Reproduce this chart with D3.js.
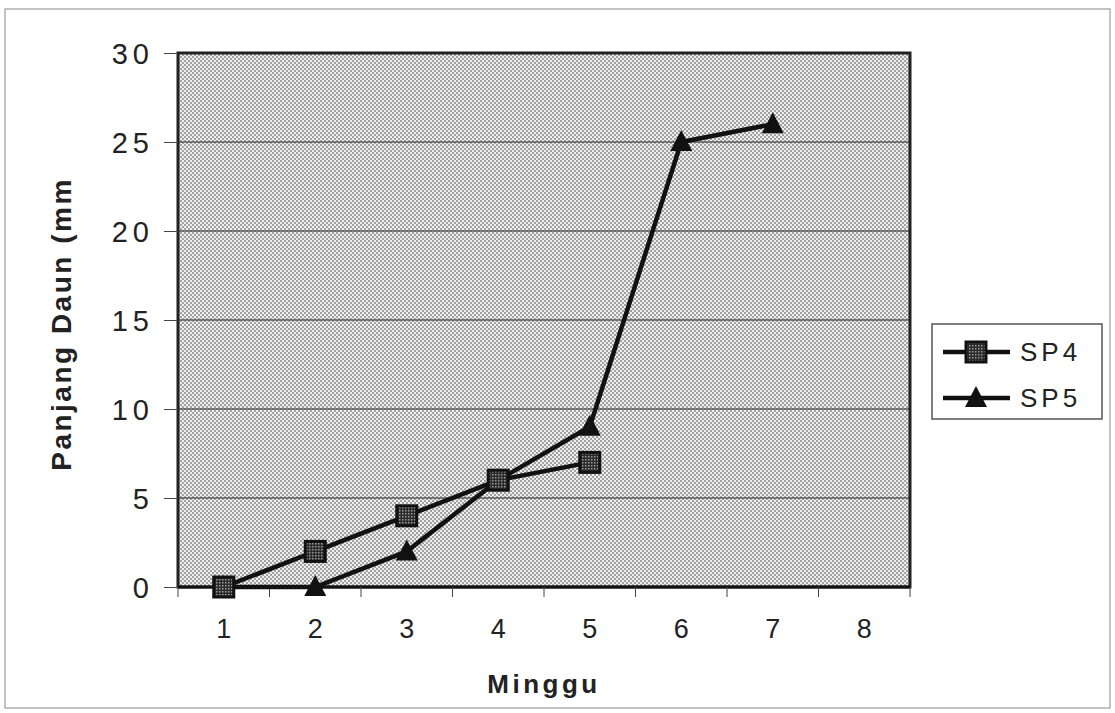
<!DOCTYPE html>
<html>
<head>
<meta charset="utf-8">
<script src="https://cdn.jsdelivr.net/npm/d3@7"></script>
<style>
  body { margin: 0; background: #fff; }
  text { font-family: "Liberation Sans", Arial, sans-serif; fill: #222; }
</style>
</head>
<body>
<div id="chart"></div>
<script>
var weeks = ["1", "2", "3", "4", "5", "6", "7", "8"];
var sp4 = [0, 2, 4, 6, 7];
var sp5 = [0, 0, 2, 6, 9, 25, 26];
var yTicks = [0, 5, 10, 15, 20, 25, 30];

var width = 1115, height = 713;
var plot = {left: 178, top: 53, right: 910, bottom: 587};

var svg = d3.select('#chart')
  .append('svg')
  .attr('width', width)
  .attr('height', height);

// dotted halftone fill of the plot area
var defs = svg.append('defs');
var pat = defs.append('pattern')
  .attr('id', 'dots')
  .attr('width', 4).attr('height', 4)
  .attr('patternUnits', 'userSpaceOnUse');
pat.append('rect').attr('width', 4).attr('height', 4).attr('fill', '#eeeeee');
pat.append('rect').attr('x', 0).attr('y', 0).attr('width', 2).attr('height', 2).attr('fill', '#a2a2a2');
pat.append('rect').attr('x', 2).attr('y', 2).attr('width', 2).attr('height', 2).attr('fill', '#a2a2a2');

var markPat = defs.append('pattern')
  .attr('id', 'markdots')
  .attr('width', 3).attr('height', 3)
  .attr('patternUnits', 'userSpaceOnUse');
markPat.append('rect').attr('width', 3).attr('height', 3).attr('fill', '#2a2a2a');
markPat.append('rect').attr('width', 1.5).attr('height', 1.5).attr('fill', '#999');

// outer frame
svg.append('rect')
  .attr('x', 5).attr('y', 9).attr('width', 1105).attr('height', 699)
  .attr('fill', 'none').attr('stroke', '#888').attr('stroke-width', 1);

var x = d3.scaleBand().domain(weeks).range([plot.left, plot.right]);
var y = d3.scaleLinear().domain([0, 30]).range([plot.bottom, plot.top]);

svg.append('rect')
  .attr('x', plot.left).attr('y', plot.top)
  .attr('width', plot.right - plot.left).attr('height', plot.bottom - plot.top)
  .attr('fill', 'url(#dots)');

// gridlines
svg.append('g').selectAll('line')
  .data(yTicks.filter(function(d){ return d > 0 && d < 30; }))
  .enter().append('line')
  .attr('x1', plot.left).attr('x2', plot.right)
  .attr('y1', function(d){ return y(d); }).attr('y2', function(d){ return y(d); })
  .attr('stroke', '#5a5a5a').attr('stroke-width', 1.3);

// plot border
svg.append('rect')
  .attr('x', plot.left).attr('y', plot.top)
  .attr('width', plot.right - plot.left).attr('height', plot.bottom - plot.top)
  .attr('fill', 'none').attr('stroke', '#222').attr('stroke-width', 3);

// y axis
var yAxis = svg.append('g')
  .attr('transform', 'translate(' + plot.left + ',0)')
  .call(d3.axisLeft(y).tickValues(yTicks).tickSize(14).tickPadding(10));
yAxis.select('.domain').remove();
yAxis.selectAll('line').attr('stroke', '#444');
yAxis.selectAll('text')
  .style('font-size', '29px')
  .style('letter-spacing', '5px')
  .attr('dy', '0.36em')
  .attr('fill', '#2a2a2a');

// x axis: ticks between categories
var xAxis = svg.append('g')
  .attr('transform', 'translate(0,' + plot.bottom + ')');
xAxis.append('line')
  .attr('x1', plot.left).attr('x2', plot.right)
  .attr('stroke', '#111').attr('stroke-width', 3);
xAxis.selectAll('.tick')
  .data(weeks.concat(['end']))
  .enter().append('line')
  .attr('x1', function(d){ return d === 'end' ? plot.right : x(d); })
  .attr('x2', function(d){ return d === 'end' ? plot.right : x(d); })
  .attr('y1', 0).attr('y2', 10)
  .attr('stroke', '#444');
xAxis.selectAll('text')
  .data(weeks)
  .enter().append('text')
  .attr('x', function(d){ return x(d) + x.bandwidth() / 2; })
  .attr('y', 51)
  .attr('text-anchor', 'middle')
  .attr('fill', '#2a2a2a')
  .style('font-size', '27px')
  .text(function(d){ return d; });

// axis titles
svg.append('text')
  .attr('transform', 'translate(71,' + 324 + ') rotate(-90)')
  .attr('text-anchor', 'middle')
  .style('font-size', '28px')
  .style('font-weight', 'bold')
  .style('letter-spacing', '2.5px')
  .text('Panjang Daun (mm');

svg.append('text')
  .attr('x', 544).attr('y', 693)
  .attr('text-anchor', 'middle')
  .style('font-size', '26px')
  .style('font-weight', 'bold')
  .style('letter-spacing', '3.5px')
  .text('Minggu');

var cx = function(d, i){ return x(weeks[i]) + x.bandwidth() / 2; };
var line = d3.line()
  .x(function(d, i){ return cx(d, i); })
  .y(function(d){ return y(d); });

function drawSquare(g, px, py) {
  g.append('rect')
    .attr('x', px - 10).attr('y', py - 10).attr('width', 20).attr('height', 20)
    .attr('fill', 'url(#markdots)').attr('stroke', '#111').attr('stroke-width', 3);
}
function drawTriangle(g, px, py) {
  g.append('path')
    .attr('d', 'M' + px + ',' + (py - 12) + 'L' + (px + 11) + ',' + (py + 9) + 'L' + (px - 11) + ',' + (py + 9) + 'Z')
    .attr('fill', '#111');
}

var series = svg.append('g');
series.append('path')
  .datum(sp5)
  .attr('d', line)
  .attr('fill', 'none').attr('stroke', '#111').attr('stroke-width', 4.5);
series.append('path')
  .datum(sp4)
  .attr('d', line)
  .attr('fill', 'none').attr('stroke', '#111').attr('stroke-width', 4.5);
sp5.forEach(function(d, i){ drawTriangle(series, cx(d, i), y(d)); });
sp4.forEach(function(d, i){ drawSquare(series, cx(d, i), y(d)); });

// legend
var lg = svg.append('g');
lg.append('rect')
  .attr('x', 932).attr('y', 324).attr('width', 170).attr('height', 95)
  .attr('fill', '#fff').attr('stroke', '#555').attr('stroke-width', 1.5);
var legendItems = [
  {name: 'SP4', y: 352, mark: drawSquare},
  {name: 'SP5', y: 398, mark: drawTriangle}
];
legendItems.forEach(function(it){
  lg.append('line')
    .attr('x1', 943).attr('x2', 1010)
    .attr('y1', it.y).attr('y2', it.y)
    .attr('stroke', '#111').attr('stroke-width', 4.5);
  it.mark(lg, 976, it.y);
  lg.append('text')
    .attr('x', 1020).attr('y', it.y)
    .attr('dy', '0.36em')
    .attr('fill', '#2a2a2a')
    .style('font-size', '26px')
    .style('letter-spacing', '4px')
    .text(it.name);
});
</script>
</body>
</html>
